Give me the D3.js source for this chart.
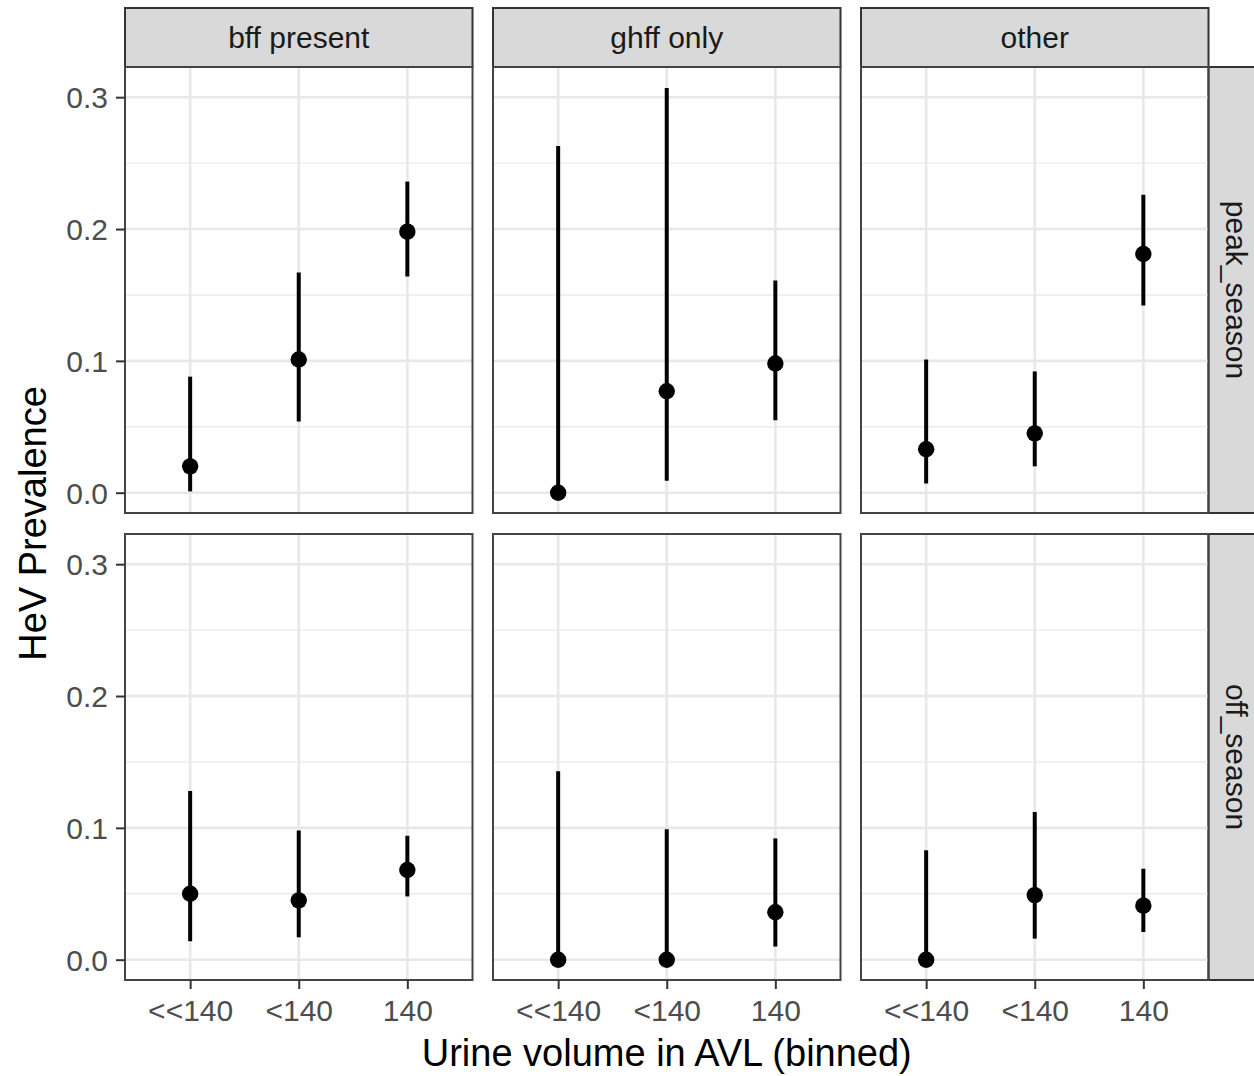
<!DOCTYPE html>
<html>
<head>
<meta charset="utf-8">
<script src="https://cdn.jsdelivr.net/npm/d3@7"></script>
<style>
  body { margin: 0; background: #fff; }
  svg { display: block; font-family: "Liberation Sans", Arial, Helvetica, sans-serif; }
</style>
</head>
<body>
<svg id="chart"></svg>
<script>
// facets and categories
const groups = ['bff present', 'ghff only', 'other']
const seasons = ['peak_season', 'off_season']
const bins = ['<<140', '<140', '140']
const yTicks = [0, 0.1, 0.2, 0.3]
const yMinor = [0.05, 0.15, 0.25]

// estimates per group (rows = groups, cols = bins)
const peakEstimate = [[0.020, 0.101, 0.198], [0.000, 0.077, 0.098], [0.033, 0.045, 0.181]]
const peakLower    = [[0.001, 0.054, 0.164], [0.000, 0.009, 0.055], [0.007, 0.020, 0.142]]
const peakUpper    = [[0.088, 0.167, 0.236], [0.263, 0.307, 0.161], [0.101, 0.092, 0.226]]
const offEstimate  = [[0.050, 0.045, 0.068], [0.000, 0.000, 0.036], [0.000, 0.049, 0.041]]
const offLower     = [[0.014, 0.017, 0.048], [0.000, 0.000, 0.010], [0.000, 0.016, 0.021]]
const offUpper     = [[0.128, 0.098, 0.094], [0.143, 0.099, 0.092], [0.083, 0.112, 0.069]]

const seasonData = {
  peak_season: { est: peakEstimate, lo: peakLower, hi: peakUpper },
  off_season: { est: offEstimate, lo: offLower, hi: offUpper }
}

const width = 1254, height = 1076
const svg = d3.select('#chart').attr('width', width).attr('height', height)

// layout
const left = 125, panelW = 347.5, gapX = 20.5
const stripTop = 8, stripH = 59
const panelTop = stripTop + stripH, panelH = 446, gapY = 21
const rightStripW = 60

const x = d3.scalePoint().domain(bins).range([0, panelW]).padding(0.6)
const y = d3.scaleLinear().domain([-0.0154, 0.3229]).range([panelH, 0])

const tickColor = '#333333'
const textGrey = '#4d4d4d'

// top strips
groups.forEach((grp, c) => {
  const sx = left + c * (panelW + gapX)
  svg.append('rect')
    .attr('x', sx).attr('y', stripTop)
    .attr('width', panelW).attr('height', stripH)
    .style('fill', '#d9d9d9').style('stroke', '#333').style('stroke-width', 2)
  svg.append('text')
    .attr('x', sx + panelW / 2).attr('y', stripTop + stripH / 2)
    .attr('text-anchor', 'middle').attr('dominant-baseline', 'central')
    .style('font-size', '30px').style('fill', '#1a1a1a')
    .text(grp)
})

seasons.forEach((season, r) => {
  const py = panelTop + r * (panelH + gapY)
  const d = seasonData[season]

  // right strip
  const rx = left + 3 * panelW + 2 * gapX
  svg.append('rect')
    .attr('x', rx).attr('y', py)
    .attr('width', rightStripW).attr('height', panelH)
    .style('fill', '#d9d9d9').style('stroke', '#333').style('stroke-width', 2)
  svg.append('text')
    .attr('transform', `translate(${rx + 28}, ${py + panelH / 2}) rotate(90)`)
    .attr('text-anchor', 'middle').attr('dominant-baseline', 'central')
    .style('font-size', '30px').style('fill', '#1a1a1a')
    .text(season)

  groups.forEach((grp, c) => {
    const px = left + c * (panelW + gapX)
    const g = svg.append('g').attr('transform', `translate(${px}, ${py})`)

    // grid
    g.selectAll('.minor').data(yMinor).enter().append('line')
      .attr('x1', 0).attr('x2', panelW)
      .attr('y1', v => y(v)).attr('y2', v => y(v))
      .style('stroke', '#ebebeb').style('stroke-width', 1.4)
    g.selectAll('.major').data(yTicks).enter().append('line')
      .attr('x1', 0).attr('x2', panelW)
      .attr('y1', v => y(v)).attr('y2', v => y(v))
      .style('stroke', '#e8e8e8').style('stroke-width', 2.6)
    g.selectAll('.vmajor').data(bins).enter().append('line')
      .attr('x1', b => x(b)).attr('x2', b => x(b))
      .attr('y1', 0).attr('y2', panelH)
      .style('stroke', '#e8e8e8').style('stroke-width', 2.6)

    const rows = bins.map((b, i) => ({ bin: b, est: d.est[c][i], lo: d.lo[c][i], hi: d.hi[c][i] }))

    // intervals
    g.selectAll('.range').data(rows).enter().append('line')
      .attr('x1', e => x(e.bin)).attr('x2', e => x(e.bin))
      .attr('y1', e => y(e.lo)).attr('y2', e => y(e.hi))
      .style('stroke', '#000').style('stroke-width', 4)

    // points
    g.selectAll('.pt').data(rows).enter().append('circle')
      .attr('cx', e => x(e.bin)).attr('cy', e => y(e.est))
      .attr('r', 8.2)
      .style('fill', '#000')

    // border
    g.append('rect')
      .attr('width', panelW).attr('height', panelH)
      .style('fill', 'none').style('stroke', '#444').style('stroke-width', 2)

    // y axis on first column
    if (c === 0) {
      const ax = g.append('g').call(d3.axisLeft(y).tickValues(yTicks).tickFormat(d3.format('.1f')).tickSize(9).tickPadding(8))
      ax.select('.domain').remove()
      ax.selectAll('line').style('stroke', tickColor).style('stroke-width', 2)
      ax.selectAll('text').style('font-size', '30px').style('fill', textGrey).attr('dy', '0.35em')
    }

    // x axis on bottom row
    if (r === seasons.length - 1) {
      const ax = g.append('g').attr('transform', `translate(0, ${panelH})`)
        .call(d3.axisBottom(x).tickSize(9).tickPadding(11))
      ax.select('.domain').remove()
      ax.selectAll('line').style('stroke', tickColor).style('stroke-width', 2)
      ax.selectAll('text').style('font-size', '30px').style('fill', textGrey)
    }
  })
})

// axis titles
svg.append('text')
  .attr('x', left + (3 * panelW + 2 * gapX) / 2).attr('y', 1066)
  .attr('text-anchor', 'middle')
  .style('font-size', '38px').style('fill', '#000')
  .text('Urine volume in AVL (binned)')

svg.append('text')
  .attr('transform', `translate(46, ${panelTop + panelH + gapY / 2}) rotate(-90)`)
  .attr('text-anchor', 'middle')
  .style('font-size', '38px').style('fill', '#000')
  .text('HeV Prevalence')
</script>
</body>
</html>
